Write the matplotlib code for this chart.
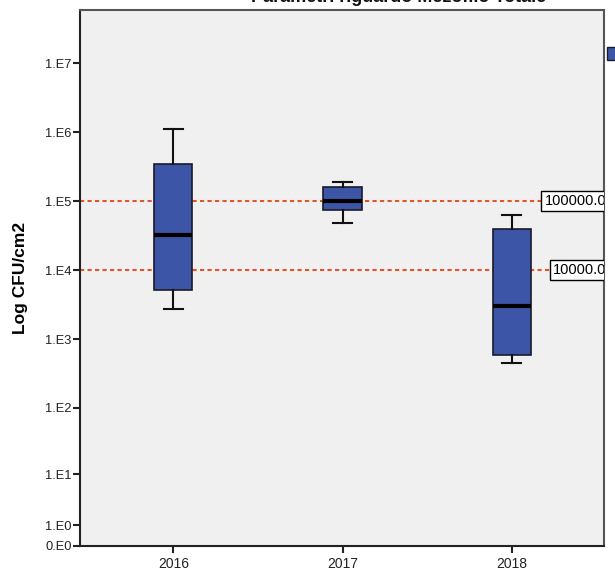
import numpy as np
import matplotlib
matplotlib.use("Agg")
import matplotlib.pyplot as plt
from matplotlib.patches import Rectangle

plt.rcParams['font.family'] = ['Liberation Sans', 'DejaVu Sans']

# Data
years = ["2016", "2017", "2018"]
whisker_low = [2.7e3, 4.9e4, 4.5e2]
q1 = [5.1e3, 7.4e4, 5.9e2]
median = [3.2e4, 1.02e5, 3.0e3]
q3 = [3.5e5, 1.6e5, 4.0e4]
whisker_high = [1.1e6, 1.9e5, 6.3e4]
ref_values = [100000.0, 10000.0]
ref_labels = ["100000.0", "10000.0"]
y_ticks = [0, 1, 10, 100, 1e3, 1e4, 1e5, 1e6, 1e7]
y_tick_labels = ["0.E0", "1.E0", "1.E1", "1.E2", "1.E3", "1.E4", "1.E5", "1.E6", "1.E7"]
title = "Parametri riguardo Mezofilo Totale"
ylabel = "Log CFU/cm2"

def fwd(x):
    x = np.asarray(x, dtype=float)
    return np.log10(1 + np.clip(x, 0, None))

def inv(y):
    return 10 ** np.asarray(y, dtype=float) - 1

fig = plt.figure(figsize=(6.15, 5.71), dpi=100)
ax = fig.add_axes([80/615, 1 - 546/571, 524/615, 536/571])
ax.set_facecolor('#f0f0f0')
ax.set_yscale('function', functions=(fwd, inv))

positions = np.arange(len(years))
stats = []
for i in range(len(years)):
    stats.append(dict(med=median[i], q1=q1[i], q3=q3[i],
                      whislo=whisker_low[i], whishi=whisker_high[i], fliers=[]))

ax.bxp(stats, positions=positions, widths=0.225, patch_artist=True,
       showfliers=False,
       boxprops=dict(facecolor='#3d55a6', edgecolor='#1a1a2a', linewidth=1.2),
       medianprops=dict(color='black', linewidth=3, solid_capstyle='butt'),
       whiskerprops=dict(color='#111111', linewidth=1.5),
       capprops=dict(color='#111111', linewidth=1.5),
       capwidths=0.115, zorder=3)

for v, lab in zip(ref_values, ref_labels):
    ax.axhline(v, color='#e2542a', linewidth=1.5, linestyle=(0, (2, 1.6)), zorder=2)
    ax.text(1.0 + 2/524, v, lab, transform=ax.get_yaxis_transform(),
            ha='right', va='center', fontsize=10.5, color='black',
            bbox=dict(boxstyle='square,pad=0.2', facecolor='white',
                      edgecolor='black', linewidth=1.0),
            clip_on=True, zorder=4)

top_val = inv((545.7 - 10) / 68.91)
ax.set_ylim(0, top_val)
ax.set_xlim(-0.552, 2.546)

ax.set_yticks(y_ticks)
ax.set_yticklabels(y_tick_labels)
ax.yaxis.set_minor_locator(matplotlib.ticker.NullLocator())
ax.set_xticks(positions)
ax.set_xticklabels(years)

ax.tick_params(axis='y', direction='out', length=5, width=1.5, labelsize=9.3,
               colors='#222222', pad=1)
ax.tick_params(axis='x', direction='out', length=5, width=1.5, labelsize=10,
               colors='#222222', pad=3)

for side in ['left', 'bottom']:
    ax.spines[side].set_color('#222222')
    ax.spines[side].set_linewidth(1.5)
for side in ['top', 'right']:
    ax.spines[side].set_color('#555555')
    ax.spines[side].set_linewidth(1.5)

ax.set_ylabel(ylabel, fontsize=12.5, fontweight='bold', labelpad=10)
ax.yaxis.set_label_coords(-(80 - 28) / 524, 0.5)

fig.text(399/615, 1 - 2.5/571, title, ha='center', va='baseline',
         fontsize=13, fontweight='bold', color='#111111')

# cropped legend patch at right edge
fig.patches.append(Rectangle((607/615, 1 - 60/571), 10/615, 13/571,
                             transform=fig.transFigure, facecolor='#3d55a6',
                             edgecolor='#1a1a2a', linewidth=1.0))

fig.savefig('out.png', dpi=100)
